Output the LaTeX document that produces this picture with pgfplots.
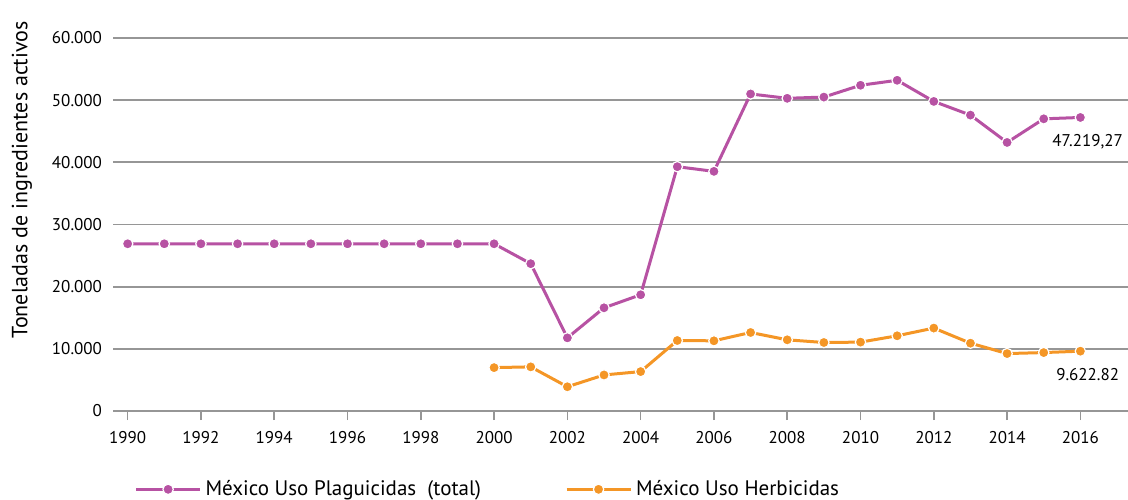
\documentclass[border=0pt]{standalone}
\usepackage{pgfplots}
\pgfplotsset{compat=1.18}
\usepackage{fontspec}
\setmainfont{PT Sans}
\definecolor{plag}{RGB}{183,82,163}
\definecolor{herb}{RGB}{244,150,38}
\definecolor{gridc}{RGB}{150,150,150}
\begin{document}
\begin{tikzpicture}
\path[use as bounding box] (0,0) rectangle (564pt,249.5pt);
\begin{axis}[
  at={(56.5pt,44pt)}, anchor=south west,
  scale only axis, width=507.5pt, height=186.5pt,
  xmin=1989.6, xmax=2017.3, ymin=0, ymax=60000,
  axis x line=bottom, axis y line=left,
  y axis line style={draw=none},
  x axis line style={gridc, line width=0.8pt, -},
  xtick={1990,1992,1994,1996,1998,2000,2002,2004,2006,2008,2010,2012,2014,2016},
  xticklabel style={font=\fontsize{8.5}{10}\selectfont, yshift=-2pt},
  x tick style={gridc, line width=0.8pt},
  tick align=outside, major tick length=4.5pt,
  xticklabel={\pgfmathprintnumber[fixed,1000 sep={}]{\tick}},
  ytick={0,10000,20000,30000,40000,50000,60000},
  yticklabel style={font=\fontsize{8.5}{10}\selectfont, xshift=2.5pt},
  y tick style={draw=none},
  ymajorgrids, grid style={gridc, line width=0.9pt},
  /pgf/number format/assume math mode=true,
  /pgf/number format/1000 sep={.},
  scaled y ticks=false,
  ylabel={Toneladas de ingredientes activos},
  ylabel style={font=\fontsize{11}{13}\selectfont, at={(axis description cs:-0.0897,0.62)}, anchor=center},
  clip=false,
  legend style={at={(axis description cs:0.015,-0.21)}, anchor=west, draw=none, fill=none,
    font=\fontsize{10.5}{12}\selectfont, legend columns=2,
    /tikz/every even column/.append style={column sep=40pt}},
  legend cell align=left,
  legend image code/.code={
    \draw[#1, line width=1.5pt] (0pt,0pt) -- (32pt,0pt);
    \draw[#1, mark repeat=1, line width=0.6pt] plot coordinates {(16pt,0pt)};
  },
]
\addplot[plag, line width=1.5pt, mark=*, mark size=2.6pt, mark options={draw=white, fill=plag, line width=0.6pt}] coordinates {
(1990,26900)(1991,26900)(1992,26900)(1993,26900)(1994,26900)(1995,26900)(1996,26900)(1997,26900)(1998,26900)(1999,26900)(2000,26900)
(2001,23700)(2002,11770)(2003,16600)(2004,18700)(2005,39300)(2006,38550)(2007,51000)(2008,50300)(2009,50500)(2010,52400)(2011,53200)(2012,49800)(2013,47600)(2014,43200)(2015,47000)(2016,47219.27)};
\addlegendentry{México Uso Plaguicidas\ \ (total)}
\addplot[herb, line width=1.5pt, mark=*, mark size=2.6pt, mark options={draw=white, fill=herb, line width=0.6pt}] coordinates {
(2000,6980)(2001,7100)(2002,3900)(2003,5800)(2004,6340)(2005,11340)(2006,11290)(2007,12630)(2008,11450)(2009,11020)(2010,11080)(2011,12100)(2012,13340)(2013,10910)(2014,9240)(2015,9400)(2016,9622.82)};
\addlegendentry{México Uso Herbicidas}
\node[anchor=north, font=\fontsize{8.5}{10}\selectfont, inner sep=0pt] at (axis cs:2016.2,44600) {47.219,27};
\node[anchor=north, font=\fontsize{8.5}{10}\selectfont, inner sep=0pt] at (axis cs:2016.2,6900) {9.622.82};
\end{axis}
\end{tikzpicture}
\end{document}
